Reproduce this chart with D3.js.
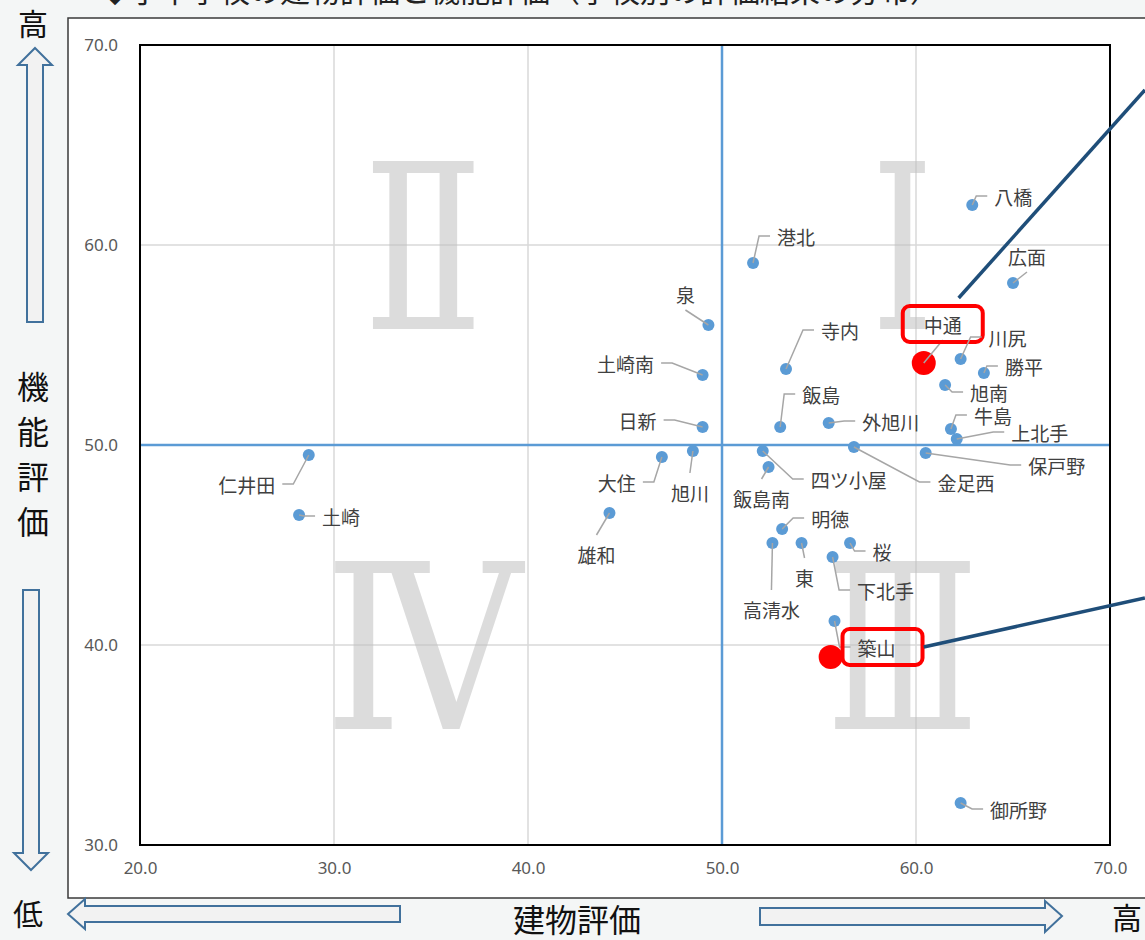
<!DOCTYPE html>
<html>
<head>
<meta charset="utf-8">
<script src="https://cdn.jsdelivr.net/npm/d3@7"></script>
<style>
  body { margin: 0; background: #f4f6f6; }
  svg { display: block; }
</style>
</head>
<body>
<svg width="1145" height="940"></svg>
<script>
// school names and scores (建物評価 = x, 機能評価 = y)
var names = ["八橋","広面","港北","泉","寺内","土崎南","日新","飯島","外旭川","中通","川尻","勝平","旭南","牛島","上北手","保戸野","金足西","四ツ小屋","飯島南","大住","旭川","仁井田","土崎","雄和","明徳","高清水","東","桜","下北手","築山","御所野"];
var buildScore = [62.9,65.0,51.6,49.3,53.3,49.0,49.0,53.0,55.5,60.4,62.3,63.5,61.5,61.8,62.1,60.5,56.8,52.1,52.4,46.9,48.5,28.7,28.2,44.2,53.1,52.6,54.1,56.6,55.7,55.8,62.3];
var funcScore  = [62.0,58.1,59.1,56.0,53.8,53.5,50.9,50.9,51.1,54.1,54.3,53.6,53.0,50.8,50.3,49.6,49.9,49.7,48.9,49.4,49.7,49.5,46.5,46.6,45.8,45.1,45.1,45.1,44.4,41.2,32.1];

// highlighted schools (red markers)
var hiNames = ["中通","築山"];
var hiBuild = [60.4, 55.6];
var hiFunc  = [54.1, 39.4];
var hiBoxShift = [0, 6];

var xTicks = [20,30,40,50,60,70];
var yTicks = [30,40,50,60,70];
var quadLabels = ["Ⅰ","Ⅱ","Ⅲ","Ⅳ"];
var quadX = [59.3, 34.6, 59.3, 34.6];
var quadY = [59.8, 59.8, 39.8, 39.8];
var quadW = [62, 120, 152, 198];

// label offsets in px from the point, and which side the leader line attaches to
var labelDx = [41,14,43,-23,54,-77,-65,41,62,19,47,40,44,42,83,131,112,86,-7,-45,-3,-62,42,-13,48,-1,3,32,53,42,58];
var labelDy = [-9,-27,-27,-31,-39,-12,-7,-33,-2,-39,-22,-7,7,-14,-7,12,35,28,31,25,41,29,1,41,-11,66,34,8,33,26,6];
var labelSide = ["l","b","l","b","l","r","r","l","l","b","l","l","l","l","l","l","l","l","t","r","t","r","l","t","l","t","t","l","l","l","l"];

// callout lines pointing out of the chart (data units)
var callouts = [
  {x1: 62.2, y1: 57.35, x2: 71.8, y2: 67.75},
  {x1: 60.4, y1: 39.9,  x2: 71.8, y2: 42.35}
];

var svg = d3.select("svg"),
    margin = {top: 45, left: 140},
    width = 970,
    height = 800;

var x = d3.scaleLinear().domain([20, 70]).range([margin.left, margin.left + width]);
var y = d3.scaleLinear().domain([30, 70]).range([margin.top + height, margin.top]);

var jp = "'Noto Sans CJK JP', 'Noto Sans', sans-serif";

// title (cut off at the top of the picture)
svg.append("text")
  .attr("x", 100).attr("y", 2)
  .attr("font-family", jp).attr("font-size", 30).attr("fill", "#222")
  .text("◆小中学校の建物評価と機能評価（学校別の評価結果の分布）");

// chart frame
svg.append("rect")
  .attr("x", 68).attr("y", 18).attr("width", 1100).attr("height", 880)
  .attr("fill", "#fff").attr("stroke", "#3a3a3a").attr("stroke-width", 1.5);

var g = svg.append("g");

// gridlines
g.selectAll(".gx").data(xTicks.filter(d => d != 50 && d != 20 && d != 70)).enter()
  .append("line")
  .attr("x1", d => x(d)).attr("x2", d => x(d))
  .attr("y1", y(30)).attr("y2", y(70))
  .attr("stroke", "#d9d9d9").attr("stroke-width", 1.5);
g.selectAll(".gy").data(yTicks.filter(d => d != 50 && d != 30 && d != 70)).enter()
  .append("line")
  .attr("x1", x(20)).attr("x2", x(70))
  .attr("y1", d => y(d)).attr("y2", d => y(d))
  .attr("stroke", "#d9d9d9").attr("stroke-width", 1.5);

// quadrant numerals
g.selectAll(".quad").data(quadLabels).enter()
  .append("text")
  .attr("x", (d, i) => x(quadX[i]))
  .attr("y", (d, i) => y(quadY[i]))
  .attr("text-anchor", "middle")
  .attr("dominant-baseline", "central")
  .attr("font-family", "'DejaVu Serif', 'Liberation Serif', serif")
  .attr("font-size", 230)
  .attr("textLength", (d, i) => quadW[i])
  .attr("lengthAdjust", "spacingAndGlyphs")
  .attr("fill", "#bfbfbf").attr("fill-opacity", 0.55)
  .text(d => d);

// center cross at 50 / 50
g.append("line")
  .attr("x1", x(50)).attr("x2", x(50)).attr("y1", y(30)).attr("y2", y(70))
  .attr("stroke", "#5b9bd5").attr("stroke-width", 2.5);
g.append("line")
  .attr("x1", x(20)).attr("x2", x(70)).attr("y1", y(50)).attr("y2", y(50))
  .attr("stroke", "#5b9bd5").attr("stroke-width", 2.5);

// plot border
g.append("rect")
  .attr("x", x(20)).attr("y", y(70))
  .attr("width", x(70) - x(20)).attr("height", y(30) - y(70))
  .attr("fill", "none").attr("stroke", "#000").attr("stroke-width", 2);

// axes
var xAxis = g.append("g")
  .attr("transform", "translate(0," + (y(30) + 14) + ")")
  .call(d3.axisBottom(x).tickValues(xTicks).tickFormat(d3.format(".1f")).tickSize(0));
var yAxis = g.append("g")
  .attr("transform", "translate(" + (x(20) - 19) + ",0)")
  .call(d3.axisLeft(y).tickValues(yTicks).tickFormat(d3.format(".1f")).tickSize(0));
[xAxis, yAxis].forEach(function(a) {
  a.select(".domain").remove();
  a.selectAll("text")
    .attr("font-family", "'Noto Sans', sans-serif")
    .attr("font-size", 17)
    .attr("fill", "#595959");
});

var data = names.map(function(n, i) {
  return {name: n, bx: buildScore[i], fy: funcScore[i], dx: labelDx[i], dy: labelDy[i], side: labelSide[i]};
});

// points
g.selectAll(".pt").data(data).enter()
  .append("circle")
  .attr("cx", d => x(d.bx)).attr("cy", d => y(d.fy)).attr("r", 6)
  .attr("fill", "#5b9bd5");

var hi = hiNames.map(function(n, i) { return {name: n, bx: hiBuild[i], fy: hiFunc[i]}; });
g.selectAll(".hi").data(hi).enter()
  .append("circle")
  .attr("cx", d => x(d.bx)).attr("cy", d => y(d.fy)).attr("r", 12)
  .attr("fill", "#ff0000");

// labels
var labels = g.selectAll(".lab").data(data).enter()
  .append("text")
  .attr("x", d => x(d.bx) + d.dx)
  .attr("y", d => y(d.fy) + d.dy)
  .attr("text-anchor", "middle")
  .attr("dominant-baseline", "central")
  .attr("font-family", jp).attr("font-size", 19)
  .attr("fill", "#404040")
  .text(d => d.name);

// leader lines
var leaderLine = d3.line();
labels.each(function(d) {
  var w = this.getComputedTextLength();
  var px = x(d.bx), py = y(d.fy), lx = px + d.dx, ly = py + d.dy, pts;
  if (d.side == "l") {
    var tx = lx - w / 2 - 7;
    pts = [[px, py], [tx - 11, ly], [tx, ly]];
  } else if (d.side == "r") {
    var tx = lx + w / 2 + 7;
    pts = [[px, py], [tx + 11, ly], [tx, ly]];
  } else if (d.side == "t") {
    pts = [[px, py], [lx, ly - 19]];
  } else {
    pts = [[px, py], [lx, ly + 16]];
  }
  g.append("path")
    .attr("d", leaderLine(pts))
    .attr("fill", "none").attr("stroke", "#a6a6a6").attr("stroke-width", 1.5);
  var k = hiNames.indexOf(d.name);
  if (k >= 0) {
    g.append("rect")
      .attr("x", lx - 40 + hiBoxShift[k]).attr("y", ly - 18).attr("width", 80).attr("height", 36)
      .attr("rx", 7)
      .attr("fill", "none").attr("stroke", "#ff0000").attr("stroke-width", 4);
  }
});

// callout lines
g.selectAll(".callout").data(callouts).enter()
  .append("line")
  .attr("x1", d => x(d.x1)).attr("y1", d => y(d.y1))
  .attr("x2", d => x(d.x2)).attr("y2", d => y(d.y2))
  .attr("stroke", "#1f4e79").attr("stroke-width", 3.5);

// axis direction arrows
var arrowStyle = function(sel) {
  sel.attr("fill", "#f2f2f2").attr("stroke", "#41719c").attr("stroke-width", 2);
};
svg.append("path").call(arrowStyle)
  .attr("d", "M35,48 L52,65 L43,65 L43,322 L27,322 L27,65 L18,65 Z");
svg.append("path").call(arrowStyle)
  .attr("d", "M31,870 L48,853 L39,853 L39,590 L23,590 L23,853 L14,853 Z");
svg.append("path").call(arrowStyle)
  .attr("d", "M68,914 L85,899 L85,906 L400,906 L400,922 L85,922 L85,929 Z");
svg.append("path").call(arrowStyle)
  .attr("d", "M1062,916 L1045,901 L1045,908 L760,908 L760,925 L1045,925 L1045,932 Z");

// axis captions
var cap = function(txt, cx, cy, size) {
  svg.append("text")
    .attr("x", cx).attr("y", cy)
    .attr("text-anchor", "middle").attr("dominant-baseline", "central")
    .attr("font-family", jp).attr("font-size", size).attr("fill", "#111")
    .text(txt);
};
cap("高", 33, 22, 30);
["機","能","評","価"].forEach(function(c, i) { cap(c, 33, 385 + i * 45, 32); });
cap("低", 28, 912, 30);
cap("建物評価", 577, 918, 32);
cap("高", 1127, 916, 30);
</script>
</body>
</html>
